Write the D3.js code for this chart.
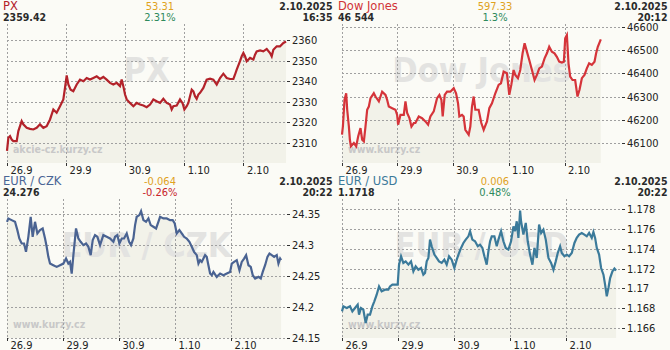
<!DOCTYPE html>
<html>
<head>
<meta charset="utf-8">
<script src="https://cdn.jsdelivr.net/npm/d3@7"></script>
<style>
  html, body { margin: 0; padding: 0; background: #fbfbf6; }
  svg { display: block; }
</style>
</head>
<body>
<svg id="chart" width="670" height="350"></svg>
<script>
// x values are trading days from the first tick (26.9 = 0)
const dayLabels = ["26.9", "29.9", "30.9", "1.10", "2.10"];

const pxSeries = [
  [0, 2305.9], [0.023, 2312.4], [0.051, 2313.2], [0.079, 2311.5], [0.107, 2310.7], [0.164, 2310.7],
  [0.192, 2315.6], [0.248, 2320.5], [0.276, 2318.9], [0.333, 2317.2], [0.389, 2316.7], [0.446, 2316.4],
  [0.502, 2317.2], [0.558, 2318.9], [0.615, 2317.2], [0.671, 2318.0], [0.728, 2321.3], [0.784, 2326.2],
  [0.840, 2324.6], [0.897, 2327.8], [0.953, 2331.1], [0.981, 2336.7], [1.010, 2342.8], [1.038, 2338.4],
  [1.077, 2335.9], [1.122, 2335.1], [1.179, 2338.4], [1.235, 2340.8], [1.292, 2340.0], [1.348, 2341.6],
  [1.404, 2340.8], [1.461, 2341.6], [1.517, 2342.4], [1.574, 2341.1], [1.630, 2342.1], [1.686, 2340.8],
  [1.743, 2339.2], [1.799, 2338.4], [1.856, 2339.2], [1.912, 2337.6], [1.940, 2340.8], [1.968, 2337.6],
  [1.997, 2333.5], [2.025, 2331.1], [2.081, 2329.4], [2.138, 2327.8], [2.194, 2329.4], [2.250, 2328.6],
  [2.307, 2328.1], [2.363, 2327.3], [2.420, 2328.6], [2.476, 2331.1], [2.532, 2330.2], [2.589, 2329.4],
  [2.645, 2331.4], [2.702, 2329.4], [2.758, 2328.6], [2.786, 2326.2], [2.814, 2327.8], [2.871, 2328.1],
  [2.927, 2331.1], [2.972, 2329.1], [3.001, 2326.2], [3.040, 2327.8], [3.068, 2329.4], [3.096, 2332.7],
  [3.125, 2335.9], [3.153, 2335.1], [3.181, 2332.7], [3.209, 2331.4], [3.237, 2333.5], [3.266, 2334.3],
  [3.322, 2336.7], [3.378, 2340.8], [3.435, 2341.3], [3.491, 2340.8], [3.548, 2338.4], [3.604, 2341.6],
  [3.660, 2343.7], [3.717, 2341.6], [3.773, 2341.1], [3.830, 2341.1], [3.858, 2343.3], [3.886, 2345.7],
  [3.942, 2349.8], [3.971, 2352.2], [3.999, 2353.8], [4.027, 2352.2], [4.055, 2349.8], [4.112, 2351.4],
  [4.168, 2350.6], [4.196, 2353.0], [4.224, 2354.6], [4.281, 2355.1], [4.337, 2354.6], [4.394, 2355.8],
  [4.450, 2353.8], [4.478, 2352.2], [4.506, 2355.4], [4.563, 2357.1], [4.619, 2357.1], [4.676, 2358.7],
  [4.721, 2359.4]
];

const djSeries = [
  [0.02, 46136], [0.036, 46171], [0.065, 46286], [0.095, 46314], [0.113, 46243], [0.143, 46171],
  [0.161, 46114], [0.179, 46086], [0.232, 46100], [0.274, 46086], [0.310, 46129], [0.351, 46164],
  [0.381, 46114], [0.411, 46107], [0.440, 46171], [0.470, 46243], [0.500, 46257], [0.530, 46293],
  [0.589, 46314], [0.619, 46300], [0.679, 46279], [0.738, 46321], [0.798, 46307], [0.827, 46286],
  [0.857, 46257], [0.917, 46250], [0.976, 46243], [1.006, 46221], [1.024, 46179], [1.065, 46221],
  [1.125, 46221], [1.155, 46279], [1.185, 46229], [1.226, 46207], [1.262, 46171], [1.304, 46186],
  [1.333, 46186], [1.393, 46214], [1.452, 46207], [1.512, 46193], [1.560, 46179], [1.601, 46214],
  [1.661, 46236], [1.720, 46293], [1.762, 46307], [1.798, 46286], [1.821, 46214], [1.857, 46307],
  [1.899, 46321], [1.958, 46321], [2.018, 46336], [2.060, 46314], [2.095, 46271], [2.119, 46214],
  [2.167, 46221], [2.196, 46214], [2.226, 46157], [2.286, 46136], [2.315, 46171], [2.345, 46257],
  [2.375, 46300], [2.405, 46243], [2.464, 46243], [2.512, 46186], [2.554, 46157], [2.613, 46193],
  [2.655, 46250], [2.702, 46271], [2.762, 46314], [2.821, 46350], [2.863, 46357], [2.911, 46407],
  [2.970, 46400], [3.012, 46307], [3.048, 46350], [3.089, 46414], [3.119, 46393], [3.167, 46379],
  [3.208, 46414], [3.250, 46486], [3.286, 46529], [3.327, 46493], [3.369, 46457], [3.417, 46414],
  [3.464, 46371], [3.506, 46393], [3.548, 46421], [3.595, 46429], [3.643, 46464], [3.685, 46486],
  [3.726, 46514], [3.774, 46493], [3.821, 46486], [3.863, 46471], [3.905, 46450], [3.952, 46446],
  [3.988, 46450], [4.012, 46550], [4.042, 46564], [4.071, 46443], [4.101, 46386], [4.143, 46371],
  [4.190, 46371], [4.232, 46300], [4.268, 46329], [4.310, 46379], [4.357, 46393], [4.399, 46421],
  [4.440, 46443], [4.488, 46436], [4.536, 46450], [4.565, 46486], [4.595, 46514], [4.649, 46546]
];

const czkSeries = [
  [0, 24.338], [0.024, 24.3435], [0.083, 24.3408], [0.143, 24.3381], [0.185, 24.3246], [0.220, 24.3111],
  [0.262, 24.3030], [0.304, 24.3030], [0.339, 24.2895], [0.381, 24.3138], [0.423, 24.3462], [0.458, 24.3138],
  [0.500, 24.3381], [0.542, 24.3192], [0.589, 24.3246], [0.637, 24.3273], [0.679, 24.3111], [0.708, 24.2976],
  [0.738, 24.2814], [0.768, 24.2705], [0.827, 24.2678], [0.887, 24.2651], [0.946, 24.2678], [1.006, 24.2705],
  [1.054, 24.2786], [1.095, 24.2705], [1.125, 24.2732], [1.155, 24.2543], [1.185, 24.2841], [1.232, 24.3273],
  [1.274, 24.3111], [1.315, 24.3057], [1.363, 24.3003], [1.411, 24.3030], [1.452, 24.2976], [1.494, 24.2841],
  [1.530, 24.3084], [1.571, 24.3165], [1.613, 24.3138], [1.661, 24.3003], [1.690, 24.3084], [1.720, 24.3165],
  [1.780, 24.3138], [1.839, 24.3111], [1.899, 24.3057], [1.929, 24.3138], [1.970, 24.3165], [2.006, 24.3030],
  [2.048, 24.3111], [2.089, 24.3111], [2.137, 24.3192], [2.179, 24.3057], [2.214, 24.3003], [2.256, 24.3111],
  [2.286, 24.3327], [2.315, 24.3462], [2.363, 24.3489], [2.393, 24.3554], [2.435, 24.3408], [2.482, 24.3381],
  [2.524, 24.3435], [2.565, 24.3327], [2.613, 24.3300], [2.661, 24.3273], [2.702, 24.3381], [2.732, 24.3462],
  [2.792, 24.3435], [2.851, 24.3435], [2.911, 24.3408], [2.958, 24.3408], [2.994, 24.3354], [3.030, 24.3192],
  [3.077, 24.3246], [3.119, 24.3192], [3.161, 24.3138], [3.208, 24.3111], [3.256, 24.3057], [3.298, 24.2976],
  [3.339, 24.2895], [3.387, 24.2841], [3.417, 24.2705], [3.446, 24.2760], [3.476, 24.2732], [3.506, 24.2786],
  [3.536, 24.2841], [3.565, 24.2814], [3.595, 24.2678], [3.625, 24.2543], [3.655, 24.2516], [3.685, 24.2570],
  [3.744, 24.2489], [3.804, 24.2543], [3.863, 24.2516], [3.923, 24.2543], [3.982, 24.2570], [4.012, 24.2705],
  [4.054, 24.2732], [4.101, 24.2760], [4.149, 24.2597], [4.190, 24.2732], [4.232, 24.2786], [4.268, 24.2841],
  [4.310, 24.2678], [4.351, 24.2651], [4.387, 24.2516], [4.429, 24.2462], [4.488, 24.2489], [4.530, 24.2462],
  [4.565, 24.2570], [4.607, 24.2678], [4.649, 24.2814], [4.685, 24.2868], [4.726, 24.2841], [4.768, 24.2814],
  [4.815, 24.2841], [4.845, 24.2705], [4.875, 24.2786], [4.893, 24.2760]
];

const usdSeries = [
  [0, 1.16768], [0.024, 1.16819], [0.083, 1.16802], [0.143, 1.16819], [0.185, 1.16768], [0.232, 1.16802],
  [0.280, 1.16836], [0.304, 1.16735], [0.339, 1.16802], [0.381, 1.16785], [0.423, 1.16651], [0.458, 1.16735],
  [0.500, 1.16735], [0.542, 1.16819], [0.577, 1.16869], [0.619, 1.16936], [0.661, 1.17020], [0.708, 1.16970],
  [0.768, 1.16987], [0.827, 1.16987], [0.857, 1.17020], [0.899, 1.17037], [0.946, 1.17037], [0.994, 1.17037],
  [1.018, 1.17239], [1.054, 1.17323], [1.095, 1.17256], [1.137, 1.17272], [1.185, 1.17239], [1.232, 1.17272],
  [1.274, 1.17172], [1.315, 1.17222], [1.363, 1.17188], [1.411, 1.17205], [1.452, 1.17138], [1.482, 1.17155],
  [1.512, 1.17272], [1.542, 1.17306], [1.571, 1.17491], [1.601, 1.17424], [1.649, 1.17340], [1.690, 1.17306],
  [1.732, 1.17272], [1.780, 1.17256], [1.827, 1.17289], [1.869, 1.17239], [1.911, 1.17323], [1.958, 1.17289],
  [2.006, 1.17205], [2.048, 1.17289], [2.089, 1.17356], [2.125, 1.17407], [2.167, 1.17457], [2.208, 1.17491],
  [2.256, 1.17524], [2.286, 1.17575], [2.327, 1.17491], [2.375, 1.17474], [2.423, 1.17424], [2.464, 1.17440],
  [2.506, 1.17407], [2.542, 1.17323], [2.583, 1.17239], [2.613, 1.17373], [2.643, 1.17474], [2.673, 1.17524],
  [2.720, 1.17524], [2.762, 1.17424], [2.792, 1.17491], [2.839, 1.17575], [2.881, 1.17474], [2.923, 1.17407],
  [2.970, 1.17390], [3.018, 1.17474], [3.060, 1.17625], [3.089, 1.17575], [3.119, 1.17676], [3.149, 1.17508],
  [3.179, 1.17783], [3.196, 1.17676], [3.238, 1.17541], [3.280, 1.17659], [3.315, 1.17474], [3.357, 1.17340],
  [3.399, 1.17239], [3.435, 1.17407], [3.476, 1.17306], [3.518, 1.17642], [3.554, 1.17558], [3.595, 1.17592],
  [3.637, 1.17491], [3.685, 1.17306], [3.732, 1.17256], [3.774, 1.17188], [3.815, 1.17272], [3.851, 1.17356],
  [3.893, 1.17424], [3.923, 1.17356], [3.970, 1.17323], [4.012, 1.17340], [4.054, 1.17323], [4.101, 1.17356],
  [4.149, 1.17457], [4.190, 1.17508], [4.232, 1.17541], [4.280, 1.17558], [4.327, 1.17541], [4.369, 1.17524],
  [4.411, 1.17558], [4.458, 1.17508], [4.488, 1.17568], [4.518, 1.17508], [4.548, 1.17407], [4.589, 1.17340],
  [4.625, 1.17205], [4.667, 1.17138], [4.696, 1.17037], [4.726, 1.16920], [4.756, 1.17004], [4.786, 1.17104],
  [4.827, 1.17172], [4.863, 1.17199], [4.893, 1.17180]
];

const pxTicks = [2310, 2320, 2330, 2340, 2350, 2360];
const djTicks = [46100, 46200, 46300, 46400, 46500, 46600];
const czkTicks = [24.15, 24.2, 24.25, 24.3, 24.35];
const usdTicks = [1.166, 1.168, 1.17, 1.172, 1.174, 1.176, 1.178];

const panels = [
  { ox: 0, oy: 0, title: "PX", titleColor: "#b3222a", lineColor: "#b3222a",
    last: "2359.42", change: "53.31", pct: "2.31%", pctColor: "#2e8a5c",
    date: "2.10.2025", time: "16:35", site: "akcie-cz.kurzy.cz",
    data: pxSeries, ticks: pxTicks, yDomain: [2300, 2368],
    dayStarts: [0, 1, 2, 3, 4], xDomain: [0, 4.72] },
  { ox: 335, oy: 0, title: "Dow Jones", titleColor: "#d13438", lineColor: "#d5343a",
    last: "46 544", change: "597.33", pct: "1.3%", pctColor: "#2e8a5c",
    date: "2.10.2025", time: "20:12", site: "www.kurzy.cz",
    data: djSeries, ticks: djTicks, yDomain: [46014, 46612],
    dayStarts: [0.02, 1, 2, 3, 4], xDomain: [0.02, 5.01] },
  { ox: 0, oy: 175, title: "EUR / CZK", titleColor: "#4a6595", lineColor: "#4a6392",
    last: "24.276", change: "-0.064", pct: "-0.26%", pctColor: "#c8232a",
    date: "2.10.2025", time: "20:22", site: "www.kurzy.cz",
    data: czkSeries, ticks: czkTicks, yDomain: [24.15, 24.375],
    dayStarts: [0, 1, 2, 3, 4], xDomain: [0, 4.98] },
  { ox: 335, oy: 175, title: "EUR / USD", titleColor: "#3b7999", lineColor: "#3b7a9a",
    last: "1.1718", change: "0.006", pct: "0.48%", pctColor: "#2e8a5c",
    date: "2.10.2025", time: "20:22", site: "www.kurzy.cz",
    data: usdSeries, ticks: usdTicks, yDomain: [1.165, 1.179],
    dayStarts: [0, 1, 2, 3, 4], xDomain: [0, 4.98] }
];

const svg = d3.select("#chart");
const plot = { left: 7, right: 286, top: 24, bottom: 163 };
const fontC = "'DejaVu Sans Condensed', 'DejaVu Sans', sans-serif";

function drawPanel(p) {
  const g = svg.append("g").attr("transform", `translate(${p.ox},${p.oy})`);

  const x = d3.scaleLinear().domain(p.xDomain).range([plot.left, plot.right]);
  const y = d3.scaleLinear().domain(p.yDomain).range([plot.bottom, plot.top]);

  // area under the line
  const area = d3.area()
    .x((d) => x(d[0]))
    .y0(plot.bottom)
    .y1((d) => y(d[1]));
  g.append("path").datum(p.data).attr("d", area).attr("fill", "#f2f2e9");

  // big watermark
  g.append("text")
    .attr("x", (plot.left + plot.right) / 2)
    .attr("y", 82)
    .attr("text-anchor", "middle")
    .attr("font-family", fontC)
    .attr("font-weight", "bold")
    .attr("font-size", 34)
    .attr("fill", "#e3e3e1")
    .text(p.title);

  g.append("text")
    .attr("x", 13)
    .attr("y", 152.5)
    .attr("font-family", fontC)
    .attr("font-weight", "bold")
    .attr("font-size", 10.5)
    .attr("fill", "#c8c8c8")
    .text(p.site);

  // grid
  const grid = g.append("g")
    .attr("stroke", "#a0a0a0")
    .attr("stroke-dasharray", "2,2")
    .attr("shape-rendering", "crispEdges");
  grid.selectAll("line.v").data(p.dayStarts).join("line")
    .attr("class", "v")
    .attr("x1", (d) => Math.round(x(d)) + 0.5).attr("x2", (d) => Math.round(x(d)) + 0.5)
    .attr("y1", plot.top).attr("y2", plot.bottom);
  grid.selectAll("line.h").data(p.ticks).join("line")
    .attr("class", "h")
    .attr("x1", plot.left).attr("x2", plot.right)
    .attr("y1", (d) => Math.round(y(d)) + 0.5).attr("y2", (d) => Math.round(y(d)) + 0.5);

  // axis tick marks
  const tk = g.append("g").attr("stroke", "#333").attr("shape-rendering", "crispEdges");
  tk.selectAll("line.r").data(p.ticks).join("line")
    .attr("x1", plot.right + 1).attr("x2", plot.right + 4)
    .attr("y1", (d) => Math.round(y(d)) + 0.5).attr("y2", (d) => Math.round(y(d)) + 0.5);
  tk.selectAll("line.b").data(p.dayStarts).join("line")
    .attr("x1", (d) => Math.round(x(d)) + 0.5).attr("x2", (d) => Math.round(x(d)) + 0.5)
    .attr("y1", plot.bottom).attr("y2", plot.bottom + 3);

  g.selectAll("text.yl").data(p.ticks).join("text")
    .attr("class", "yl")
    .attr("x", 292)
    .attr("y", (d) => y(d) + 4)
    .attr("font-family", fontC)
    .attr("font-size", 11)
    .attr("fill", "#222")
    .text((d) => String(d));

  g.selectAll("text.xl").data(p.dayStarts).join("text")
    .attr("class", "xl")
    .attr("x", (d) => x(d) + 3.5)
    .attr("y", 173.5)
    .attr("font-family", fontC)
    .attr("font-size", 11)
    .attr("fill", "#222")
    .text((d, i) => dayLabels[i]);

  // the series
  const line = d3.line().x((d) => x(d[0])).y((d) => y(d[1]));
  g.append("path").datum(p.data)
    .attr("d", line)
    .attr("fill", "none")
    .attr("stroke", p.lineColor)
    .attr("stroke-width", 2.2)
    .attr("stroke-linejoin", "miter");

  // header
  g.append("text").attr("x", 3).attr("y", 10)
    .attr("font-family", "'DejaVu Sans', sans-serif").attr("font-size", 11.5)
    .attr("fill", p.titleColor).text(p.title);
  g.append("text").attr("x", 3).attr("y", 20.5)
    .attr("font-family", fontC).attr("font-weight", "bold").attr("font-size", 10.5)
    .attr("fill", "#2a2a2a").text(p.last);
  g.append("text").attr("x", 160).attr("y", 9.5).attr("text-anchor", "middle")
    .attr("font-family", fontC).attr("font-size", 11)
    .attr("fill", "#e0a21e").text(p.change);
  g.append("text").attr("x", 160).attr("y", 20.5).attr("text-anchor", "middle")
    .attr("font-family", fontC).attr("font-size", 11)
    .attr("fill", p.pctColor).text(p.pct);
  g.append("text").attr("x", 332.5).attr("y", 10).attr("text-anchor", "end")
    .attr("font-family", fontC).attr("font-weight", "bold").attr("font-size", 10.5)
    .attr("fill", "#2a2a2a").text(p.date);
  g.append("text").attr("x", 332.5).attr("y", 20.5).attr("text-anchor", "end")
    .attr("font-family", fontC).attr("font-weight", "bold").attr("font-size", 10.5)
    .attr("fill", "#2a2a2a").text(p.time);
}

panels.forEach(drawPanel);
</script>
</body>
</html>
